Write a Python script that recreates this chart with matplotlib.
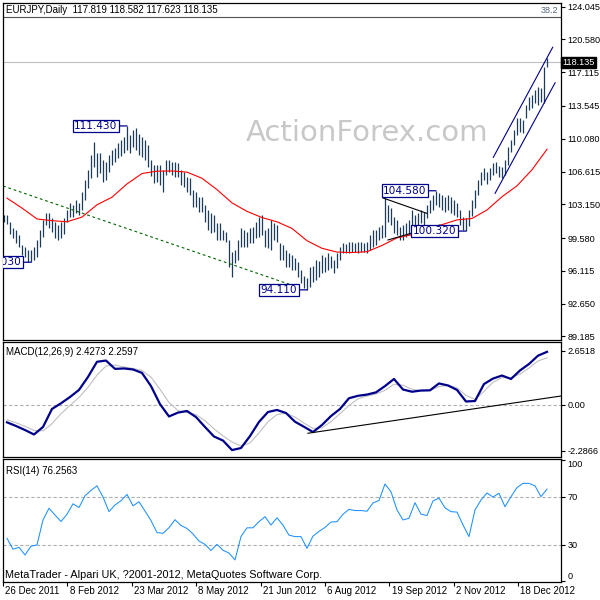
import numpy as np
import matplotlib.pyplot as plt

plt.rcParams['font.family'] = ['Liberation Sans', 'DejaVu Sans']

# ---- data --------------------------------------------------------------------
TITLE = 'EURJPY,Daily  117.819 118.582 117.623 118.135'
LAST_PRICE = 118.135
FIB_LEVEL = 122.94

bar_high = [102.02, 102.02, 101.28, 100.65, 100.43, 99.91, 98.85, 98.64, 98.32, 98.32,
            98.64, 99.38, 100.43, 101.49, 102.23, 102.23, 101.70, 101.28, 100.96, 101.28,
            101.70, 102.55, 103.29, 103.08, 103.60, 103.29, 104.45, 105.72, 106.77, 108.36,
            109.73, 108.57, 108.57, 107.83, 107.62, 108.36, 108.89, 109.10, 109.63, 109.94,
            110.26, 111.43, 110.47, 111.00, 111.21, 110.58, 110.26, 109.94, 109.41, 107.83,
            107.30, 107.30, 107.30, 106.77, 107.83, 107.83, 107.62, 107.62, 107.51, 106.77,
            106.56, 106.03, 105.93, 104.66, 104.45, 103.92, 103.92, 103.08, 102.55, 102.23,
            102.02, 101.17, 101.17, 100.43, 100.22, 99.38, 98.11, 98.32, 99.38, 100.65,
            100.43, 100.22, 100.65, 100.75, 101.28, 101.81, 102.02, 100.43, 100.65, 101.49,
            101.17, 100.96, 99.06, 98.85, 98.32, 98.01, 97.79, 97.48, 97.05, 96.21,
            95.58, 95.36, 96.53, 96.63, 97.27, 97.16, 97.79, 97.58, 98.01, 97.69,
            97.27, 98.01, 98.64, 99.06, 98.96, 99.17, 99.17, 99.06, 99.17, 99.17,
            99.06, 99.17, 99.91, 100.43, 100.43, 100.75, 100.96, 103.85, 103.08, 102.76,
            101.81, 101.49, 100.75, 100.96, 101.17, 101.49, 102.55, 102.02, 102.23, 102.55,
            102.34, 103.08, 103.60, 104.13, 104.58, 104.34, 104.13, 103.92, 104.13, 103.92,
            103.60, 103.29, 102.55, 101.81, 101.70, 102.55, 103.60, 104.66, 105.72, 106.56,
            106.98, 106.56, 106.98, 107.51, 107.62, 107.20, 107.09, 107.83, 109.20, 109.94,
            111.00, 112.27, 112.27, 112.06, 113.64, 114.49, 114.70, 115.22, 115.54, 115.44,
            117.65, 118.58]

bar_low = [101.28, 101.07, 100.01, 99.59, 99.06, 98.64, 97.79, 97.58, 97.05, 97.03,
           97.27, 97.58, 98.64, 99.70, 100.96, 100.65, 100.22, 99.59, 99.38, 99.59,
           100.01, 101.28, 101.81, 101.81, 102.23, 102.02, 102.55, 103.60, 104.87, 105.93,
           107.09, 106.03, 106.46, 105.51, 105.72, 106.56, 107.30, 107.62, 108.04, 108.25,
           108.57, 108.89, 108.57, 109.20, 108.89, 108.36, 108.15, 107.83, 107.09, 106.14,
           105.40, 105.51, 105.19, 104.45, 106.25, 106.56, 106.25, 106.03, 106.03, 105.19,
           104.98, 104.45, 104.13, 102.87, 102.87, 102.34, 102.34, 101.28, 100.43, 100.12,
           100.22, 99.38, 99.38, 99.38, 99.17, 96.53, 95.47, 96.95, 97.27, 98.64,
           98.64, 98.64, 99.06, 99.06, 99.59, 99.70, 99.91, 98.64, 98.53, 98.32,
           99.38, 99.17, 97.27, 97.27, 96.53, 96.53, 96.21, 96.21, 95.47, 94.84,
           94.31, 94.11, 94.41, 94.94, 95.15, 95.47, 95.89, 96.00, 96.21, 96.42,
           95.89, 96.42, 97.27, 98.01, 98.01, 98.01, 98.11, 98.11, 98.01, 98.11,
           98.11, 98.01, 98.32, 98.64, 98.85, 99.38, 99.59, 99.70, 101.28, 100.96,
           100.12, 99.91, 99.38, 99.38, 99.70, 99.91, 100.75, 100.65, 100.75, 101.17,
           100.96, 101.70, 102.23, 102.55, 103.08, 102.87, 102.55, 102.34, 102.55, 102.23,
           102.02, 101.81, 100.96, 100.43, 100.32, 100.86, 101.91, 102.76, 104.13, 105.19,
           105.72, 105.29, 105.72, 106.25, 106.46, 106.03, 105.93, 106.25, 107.30, 108.68,
           109.41, 110.47, 110.79, 110.68, 112.27, 113.11, 113.32, 113.85, 113.64, 113.96,
           113.85, 117.62]

# moving average, one value every 5 bars
ma_values = [103.8, 102.75, 101.6, 101.42, 101.3, 101.8, 103.1, 103.9, 105.3, 106.4,
             106.65, 106.67, 106.55, 105.9, 104.7, 103.3, 102.4, 101.75, 101.3, 100.6,
             99.3, 98.5, 98.1, 98.05, 98.14, 98.8, 99.6, 99.95, 100.4, 101.0,
             101.5, 101.65, 102.55, 103.95, 105.1, 106.8, 108.96]

# MACD main / signal, one value every 3 bars
macd_main = [-0.88, -1.06, -1.26, -1.48, -1.11, -0.22, 0.06, 0.37, 0.72, 1.36,
             2.11, 2.17, 1.76, 1.78, 1.73, 1.56, 0.91, 0.02, -0.59, -0.40,
             -0.32, -0.62, -1.11, -1.58, -1.78, -2.25, -2.15, -1.56, -0.86, -0.37,
             -0.27, -0.42, -0.85, -1.10, -1.36, -1.01, -0.57, -0.22, 0.31, 0.43,
             0.49, 0.60, 0.91, 1.26, 0.74, 0.63, 0.69, 0.70, 1.04, 0.94,
             0.72, 0.15, 0.17, 1.01, 1.28, 1.43, 1.26, 1.68, 2.00, 2.41, 2.60]
macd_signal = [-0.75, -0.90, -1.08, -1.28, -1.30, -0.95, -0.45, -0.05, 0.35, 0.85,
               1.45, 1.90, 1.95, 1.85, 1.78, 1.68, 1.35, 0.75, 0.10, -0.30,
               -0.40, -0.50, -0.80, -1.20, -1.55, -1.85, -2.05, -1.90, -1.40, -0.85,
               -0.50, -0.42, -0.62, -0.92, -1.18, -1.15, -0.85, -0.45, -0.05, 0.28,
               0.42, 0.52, 0.70, 1.00, 0.95, 0.75, 0.68, 0.70, 0.88, 0.95,
               0.82, 0.45, 0.25, 0.65, 1.10, 1.32, 1.33, 1.50, 1.80, 2.15, 2.30]

# RSI(14), one value every 2 bars
rsi_values = [35.5, 26.5, 28, 21.7, 29, 30, 50.7, 60.4, 54.8, 49.4,
              55.4, 64.1, 61.0, 70.7, 75.2, 79.0, 69.7, 57.6, 63.1, 66.6,
              71.9, 62.4, 65.8, 58.1, 50.2, 40.3, 39.6, 44.3, 50.9, 46.1,
              43.7, 39.1, 33.2, 30.5, 25.4, 30.5, 25.6, 23.3, 17.6, 36.9,
              44.2, 44.2, 49.3, 53.4, 46.5, 52.5, 46.4, 38.1, 36.9, 36.9,
              27.2, 37.3, 41.2, 44.5, 49.0, 49.3, 55.4, 59.5, 58.5, 58.5,
              57.9, 64.8, 66.8, 80.5, 74.1, 59.0, 50.7, 52.1, 65.0, 55.5,
              54.4, 66.5, 68.8, 60.8, 57.6, 57.2, 46.6, 36.9, 59.0, 67.2,
              73.0, 69.7, 72.8, 61.7, 70.0, 77.5, 81.0, 81.0, 79.0, 70.0, 76.26]

price_ticks = [124.045, 120.580, 117.115, 113.545, 110.080, 106.615,
               103.150, 99.580, 96.115, 92.650, 89.185]
macd_ticks = [2.6518, 0.0, -2.2866]
macd_tick_labels = ['2.6518', '0.00', '-2.2866']
rsi_ticks = [100, 70, 30, 0]
date_labels = ['26 Dec 2011', '8 Feb 2012', '23 Mar 2012', '8 May 2012', '21 Jun 2012',
               '6 Aug 2012', '19 Sep 2012', '2 Nov 2012', '18 Dec 2012']

# price labels (bar index, price)
mark_bars = [9, 41, 101, 144, 154]
mark_prices = [97.030, 111.430, 94.110, 104.580, 100.320]

# hand drawn lines (bar index pairs, value pairs)
green_bars, green_prices = [-0.3, 98.7], [105.08, 94.31]
tri_up_bars, tri_up_prices = [126.4, 141.0], [103.81, 102.19]
tri_lo_bars, tri_lo_prices = [128.0, 145.3], [99.38, 100.96]
chan_up_bars, chan_up_prices = [163.1, 182.9], [108.11, 119.74]
chan_lo_bars, chan_lo_prices = [163.7, 183.7], [104.31, 115.99]
macd_tl_bars, macd_tl_vals = [101.3, 185.7], [-1.42, 0.42]

# ---- drawing -----------------------------------------------------------------
FS = 6.6
N = len(bar_high)
XLIM = (-0.33, 185.67)
bars_x = np.arange(N)

fig = plt.figure(figsize=(6, 6), dpi=100)
ax = fig.add_axes([3 / 600, 1 - 340 / 600, 558 / 600, 337 / 600])
ax_m = fig.add_axes([3 / 600, 1 - 457 / 600, 558 / 600, 115 / 600])
ax_r = fig.add_axes([3 / 600, 1 - 582 / 600, 558 / 600, 123 / 600])

for a in (ax, ax_m, ax_r):
    a.set_xlim(*XLIM)
    a.yaxis.tick_right()
    a.tick_params(axis='y', direction='out', length=3, width=0.8, labelsize=FS, pad=1.5)
    a.set_xticks([])
    for s in a.spines.values():
        s.set_linewidth(0.9)

# main price panel
ax.set_ylim(88.81, 124.42)
ax.set_yticks(price_ticks)
ax.set_yticklabels([f'{t:.3f}' for t in price_ticks])

ax.axhline(FIB_LEVEL, color='#505050', lw=0.8)
ax.axhline(LAST_PRICE, color='#bdbdbd', lw=0.8)
ax.text(0.995, FIB_LEVEL + 0.25, '38.2', transform=ax.get_yaxis_transform(),
        ha='right', va='bottom', fontsize=FS, color='#51647a')

ax.vlines(bars_x, bar_low, bar_high, color='#1b3d5a', lw=0.9)
ma_x = np.linspace(1, N - 1, len(ma_values))
ax.plot(ma_x, ma_values, color='#ff0000', lw=0.8)

ax.plot(green_bars, green_prices, color='#006400', lw=0.8, ls=(0, (2.5, 2.5)))
ax.plot(tri_up_bars, tri_up_prices, color='black', lw=0.8)
ax.plot(tri_lo_bars, tri_lo_prices, color='black', lw=0.8)
ax.plot(chan_up_bars, chan_up_prices, color='#00008b', lw=0.8)
ax.plot(chan_lo_bars, chan_lo_prices, color='#00008b', lw=0.8)

for b, p in zip(mark_bars, mark_prices):
    ann = ax.annotate(f'{p:.3f}', xy=(b, p), xytext=(-7, 0), textcoords='offset points',
                      ha='right', va='center', fontsize=7.6, color='#00008b',
                      family='DejaVu Sans',
                      bbox=dict(boxstyle='square,pad=0.12', fc='white', ec='#00008b', lw=0.9),
                      arrowprops=dict(arrowstyle='-', color='#00008b', lw=0.9,
                                      shrinkA=0, shrinkB=0))
    ann.set_clip_box(ax.bbox)
    ann.set_clip_on(True)

ax.text(1.003, LAST_PRICE, f'{LAST_PRICE:.3f}', transform=ax.get_yaxis_transform(),
        ha='left', va='center', fontsize=FS, color='white', clip_on=False,
        bbox=dict(boxstyle='square,pad=0.15', fc='black', ec='black'))

# MACD panel
ax_m.set_ylim(-2.592, 3.086)
ax_m.set_yticks(macd_ticks)
ax_m.set_yticklabels(macd_tick_labels)
ax_m.axhline(0, color='#b0b0b0', lw=0.8, ls=(0, (3, 2)))
macd_x = np.linspace(1, N - 1, len(macd_main))
ax_m.plot(macd_x, macd_signal, color='#c0c0c0', lw=0.8)
ax_m.plot(macd_x, macd_main, color='#00008b', lw=1.6)
ax_m.plot(macd_tl_bars, macd_tl_vals, color='black', lw=0.8, clip_on=True)

# RSI panel
ax_r.set_ylim(-0.7, 101.2)
ax_r.set_yticks(rsi_ticks)
ax_r.set_yticklabels([str(t) for t in rsi_ticks])
lbls = ax_r.get_yticklabels()
lbls[0].set_va('top')
lbls[-1].set_va('bottom')
for lvl in (70, 30):
    ax_r.axhline(lvl, color='#b0b0b0', lw=0.8, ls=(0, (3, 2)))
rsi_x = np.linspace(1, N - 1, len(rsi_values))
ax_r.plot(rsi_x, rsi_values, color='#1e90ff', lw=0.75)

# date axis
date_pos = XLIM[0] + np.arange(len(date_labels)) * 21.47
ax_r.set_xticks(date_pos)
ax_r.set_xticklabels([])
ax_r.tick_params(axis='x', direction='out', length=3, width=0.8)
for pos, lab in zip(date_pos, date_labels):
    ax_r.text(pos + 0.7, -0.035, lab, transform=ax_r.get_xaxis_transform(),
              ha='left', va='top', fontsize=FS + 0.4, color='black')

# overlay texts
fig.text(6 / 600, 1 - 10 / 600, TITLE, fontsize=FS + 0.4, va='center', ha='left')
fig.text(367 / 600, 1 - 133 / 600, 'ActionForex.com', fontsize=21,
         color='#c8c8c8', ha='center', va='center', family='DejaVu Sans')
fig.text(6 / 600, 1 - 352 / 600, 'MACD(12,26,9) 2.4273 2.2597', fontsize=FS + 0.4,
         va='center', ha='left')
fig.text(6 / 600, 1 - 471 / 600, 'RSI(14) 76.2563', fontsize=FS + 0.4,
         va='center', ha='left')
fig.text(5 / 600, 1 - 575 / 600,
         'MetaTrader - Alpari UK, ?2001-2012, MetaQuotes Software Corp.',
         fontsize=FS + 1.2, va='center', ha='left')

fig.savefig('out.png', dpi=100, facecolor='white')
